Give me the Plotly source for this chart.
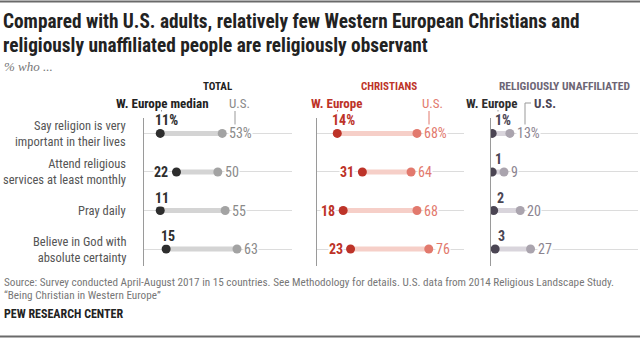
import plotly.graph_objects as go

# ---------------- data ----------------
categories = [
    "Say religion is very<br>important in their lives",
    "Attend religious<br>services at least monthly",
    "Pray daily",
    "Believe in God with<br>absolute certainty",
]
total_europe = [11, 22, 11, 15]
total_us = [53, 50, 55, 63]
christ_europe = [14, 31, 18, 23]
christ_us = [68, 64, 68, 76]
unaff_europe = [1, 1, 2, 3]
unaff_us = [13, 9, 20, 27]

W, H = 640, 340
def px(x): return x / W
def py(y): return 1 - y / H

COND = "Roboto Condensed, Liberation Sans, sans-serif"

panels = [
    dict(eu=total_europe, us=total_us, dom=(144, 291.6),
         eu_col="#2e2e2e", us_col="#a3a3a3", bar="#d4d4d4",
         eu_txt="#2e2e2e", us_txt="#8a8a8a",
         pos=["above", "left", "above", "above"]),
    dict(eu=christ_europe, us=christ_us, dom=(316.6, 464.2),
         eu_col="#bd3328", us_col="#e2796d", bar="#f6cfc8",
         eu_txt="#bd3328", us_txt="#e2796d",
         pos=["above", "left", "left", "left"]),
    dict(eu=unaff_europe, us=unaff_us, dom=(490.7, 638.3),
         eu_col="#4b4553", us_col="#aaa4ae", bar="#d9d5dc",
         eu_txt="#4b4553", us_txt="#8b8490",
         pos=["above", "above", "above", "above"]),
]

fig = go.Figure()
rows = list(range(len(categories)))
annotations = []

for i, p in enumerate(panels):
    sfx = "" if i == 0 else str(i + 1)
    xa, ya = "x" + sfx, "y" + sfx
    bx, by = [], []
    for r in rows:
        bx += [p["eu"][r], p["us"][r], None]
        by += [r, r, None]
    fig.add_trace(go.Scatter(x=bx, y=by, mode="lines",
                             line=dict(color=p["bar"], width=5),
                             xaxis=xa, yaxis=ya, hoverinfo="skip", showlegend=False))
    fig.add_trace(go.Scatter(x=p["us"], y=rows, mode="markers",
                             marker=dict(color=p["us_col"], size=9),
                             xaxis=xa, yaxis=ya, showlegend=False))
    fig.add_trace(go.Scatter(x=p["eu"], y=rows, mode="markers",
                             marker=dict(color=p["eu_col"], size=9),
                             xaxis=xa, yaxis=ya, showlegend=False))
    for r in rows:
        suf = "%" if r == 0 else ""
        ev, uv = p["eu"][r], p["us"][r]
        if p["pos"][r] == "above":
            annotations.append(dict(
                x=ev, y=r, xref=xa, yref=ya, text=f"<b>{ev}{suf}</b>",
                xanchor="left", yanchor="middle", xshift=-6 if ev >= 10 else 2,
                yshift=13, showarrow=False, bgcolor="white", borderpad=0,
                font=dict(family=COND, size=14, color=p["eu_txt"])))
        else:
            annotations.append(dict(
                x=ev, y=r, xref=xa, yref=ya, text=f"<b>{ev}{suf}</b>",
                xanchor="right", yanchor="middle", xshift=-7,
                showarrow=False, bgcolor="white", borderpad=0,
                font=dict(family=COND, size=14, color=p["eu_txt"])))
        annotations.append(dict(
            x=uv, y=r, xref=xa, yref=ya, text=f"{uv}{suf}",
            xanchor="left", yanchor="middle", xshift=6,
            showarrow=False, bgcolor="white", borderpad=0,
            font=dict(family=COND, size=14, color=p["us_txt"])))

    fig.update_layout(**{
        "xaxis" + sfx: dict(domain=[px(p["dom"][0]), px(p["dom"][1])], range=[0, 100],
                            visible=False, fixedrange=True),
        "yaxis" + sfx: dict(domain=[py(266), py(118)], range=[3.44, -0.4],
                            tickvals=rows, showticklabels=False, ticks="",
                            showgrid=True, gridcolor="#dcdcdc", gridwidth=1,
                            showline=True, linecolor="#9a9a9a", linewidth=1,
                            zeroline=False, anchor="x" + sfx, fixedrange=True),
    })

# row labels
for r, c in enumerate(categories):
    annotations.append(dict(x=px(127.5), y=r, xref="paper", yref="y", text=c,
                            xanchor="right", yanchor="middle", align="right",
                            showarrow=False,
                            font=dict(family=COND, size=12.5, color="#555555")))

def txt(x, y, t, size, color, family=COND, xanchor="left", bold=False, italic=False):
    s = f"<b>{t}</b>" if bold else t
    if italic:
        s = f"<i>{s}</i>"
    annotations.append(dict(x=px(x), y=py(y), xref="paper", yref="paper",
                            text=s, xanchor=xanchor,
                            yanchor="middle", showarrow=False, align="left",
                            font=dict(family=family, size=size, color=color)))

# title / subtitle
txt(1, 21, "Compared with U.S. adults, relatively few Western European Christians and", 19.3, "#222222", bold=True)
txt(1, 46, "religiously unaffiliated people are religiously observant", 19.3, "#222222", bold=True)
txt(2, 67, "% who ...", 13, "#777777", family="Liberation Serif, serif", italic=True)

# column headers
txt(217, 86, "TOTAL", 11, "#222222", xanchor="center", bold=True)
txt(389, 86, "CHRISTIANS", 11, "#bd3328", xanchor="center", bold=True)
txt(564, 86, "RELIGIOUSLY UNAFFILIATED", 11.5, "#6d6675", xanchor="center", bold=True)

# legend labels
txt(162, 103, "W. Europe median", 13, "#222222", xanchor="center", bold=True)
txt(239, 103, "U.S.", 13, "#8a8a8a", xanchor="center")
txt(336, 103, "W. Europe", 13, "#bd3328", xanchor="center", bold=True)
txt(432, 103, "U.S.", 13, "#e2796d", xanchor="center")
txt(491, 103, "W. Europe", 13, "#2e2e2e", xanchor="center", bold=True)
txt(545, 103, "U.S.", 13, "#4b4553", xanchor="center", bold=True)

# footer
txt(2, 282, "Source: Survey conducted April-August 2017 in 15 countries. See Methodology for details. U.S. data from 2014 Religious Landscape Study.", 11.2, "#777777")
txt(2, 295, "\u201cBeing Christian in Western Europe\u201d", 11.2, "#777777")
txt(2, 314, "PEW RESEARCH CENTER", 12, "#222222", bold=True)

shapes = [
    dict(type="line", xref="paper", yref="paper", x0=0, x1=1, y0=py(1.5), y1=py(1.5),
         line=dict(color="#6a6a6a", width=2)),
    dict(type="line", xref="paper", yref="paper", x0=0, x1=1, y0=py(336.5), y1=py(336.5),
         line=dict(color="#6a6a6a", width=2)),
    dict(type="line", xref="paper", yref="paper", x0=px(161.5), x1=px(161.5), y0=py(110), y1=py(114),
         line=dict(color="#999999", width=1)),
    dict(type="line", xref="paper", yref="paper", x0=px(235), x1=px(235), y0=py(111), y1=py(125),
         line=dict(color="#999999", width=1)),
    dict(type="line", xref="paper", yref="paper", x0=px(337.5), x1=px(337.5), y0=py(110), y1=py(114),
         line=dict(color="#e2796d", width=1)),
    dict(type="line", xref="paper", yref="paper", x0=px(429), x1=px(429), y0=py(111), y1=py(125),
         line=dict(color="#e2796d", width=1)),
    dict(type="line", xref="paper", yref="paper", x0=px(498), x1=px(498), y0=py(110), y1=py(114),
         line=dict(color="#999999", width=1)),
    dict(type="path", xref="paper", yref="paper",
         path=f"M {px(531)},{py(103)} L {px(525)},{py(103)} L {px(525)},{py(125)}",
         line=dict(color="#999999", width=1)),
]

fig.update_layout(width=W, height=H, margin=dict(l=0, r=0, t=0, b=0),
                  paper_bgcolor="white", plot_bgcolor="white",
                  annotations=annotations, shapes=shapes, showlegend=False)
fig.write_html("out.html")
